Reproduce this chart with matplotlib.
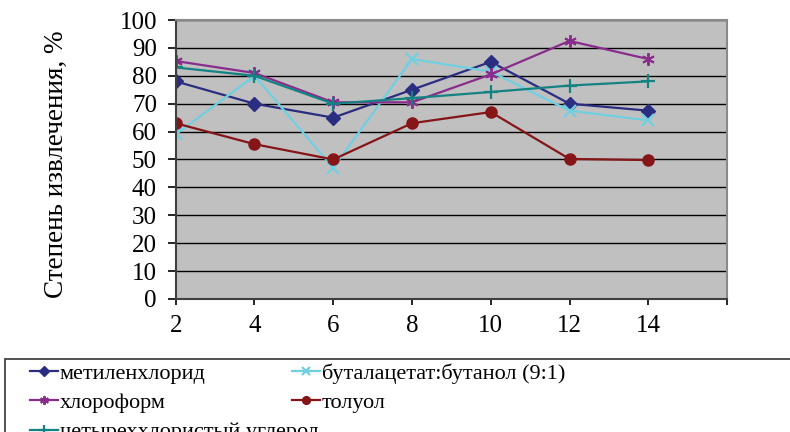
import matplotlib.pyplot as plt
from matplotlib.patches import Rectangle

plt.rcParams["font.family"] = ["Liberation Serif", "DejaVu Serif"]

# data
x = [2, 4, 6, 8, 10, 12, 14]
methylene = [78, 70, 65, 75, 85, 70, 67.5]
butyl = [59, 80, 47, 86, 81.5, 67.5, 64]
chloroform = [85.3, 81, 70.5, 70.5, 80.5, 92.5, 86]
toluene = [63, 55.5, 50, 63, 67, 50.2, 49.8]
carbon_tet = [83, 80, 70, 72, 74.2, 76.5, 78]

labels = ["метиленхлорид", "буталацетат:бутанол (9:1)", "хлороформ",
          "толуол", "четыреххлористый углерод"]
xticks = [2, 4, 6, 8, 10, 12, 14, 16]
xticklabels = ["2", "4", "6", "8", "10", "12", "14", ""]

fig = plt.figure(figsize=(7.9, 4.32), dpi=100)
ax = fig.add_axes([0.2224, 0.3079, 0.6979, 0.6458])
ax.set_facecolor("#c0c0c0")

h0, = ax.plot(x, methylene, color="#2b2e80", marker="D", ms=7, lw=1.6)
h1, = ax.plot(x, butyl, color="#6fd0e2", marker="x", ms=8, mew=1.6, lw=1.6)
h2, = ax.plot(x, chloroform, color="#8a2c8c", marker=(6, 2, 0), ms=9, mew=1.4, lw=1.6)
h3, = ax.plot(x, toluene, color="#861518", marker="o", ms=8, lw=1.6)
h4, = ax.plot(x, carbon_tet, color="#148282", marker="+", ms=10, mew=1.6, lw=1.6)

ax.set_xlim(2, 16)
ax.set_ylim(0, 100)
ax.set_yticks(range(0, 101, 10))
ax.set_xticks(xticks)
ax.set_xticklabels(xticklabels)
ax.yaxis.grid(True, color="black", lw=1)
ax.set_axisbelow(True)

for s in ["top", "right"]:
    ax.spines[s].set_color("#8a8a8a")
    ax.spines[s].set_linewidth(1.5)
for s in ["left", "bottom"]:
    ax.spines[s].set_color("#404040")
    ax.spines[s].set_linewidth(1.5)

ax.tick_params(axis="y", length=5.5, width=1.2, pad=8, labelsize=18)
ax.tick_params(axis="x", length=4.5, width=1.2, pad=7, labelsize=18)
ax.set_ylabel("Степень извлечения, %", fontsize=19.5)
ax.yaxis.set_label_coords(-0.194, 0.482)

# legend frame runs off the right and bottom edges
fig.patches.append(Rectangle((5 / 790, -0.1), 1.0, 1 - 359 / 432 + 0.1,
                             transform=fig.transFigure, fill=False,
                             edgecolor="#333333", lw=1.2))

leg_kw = dict(loc="upper left", frameon=False, fontsize=16, handlelength=1.25,
              handletextpad=0.1, labelspacing=0.4, borderpad=0.0,
              borderaxespad=0.0, markerscale=0.7)
fig.legend([h0, h2, h4], [labels[0], labels[2], labels[4]],
           bbox_to_anchor=(30 / 790, 1 - 363 / 432), **leg_kw)
fig.legend([h1, h3], [labels[1], labels[3]],
           bbox_to_anchor=(292 / 790, 1 - 363 / 432), **leg_kw)

fig.savefig("out.png", dpi=100)
